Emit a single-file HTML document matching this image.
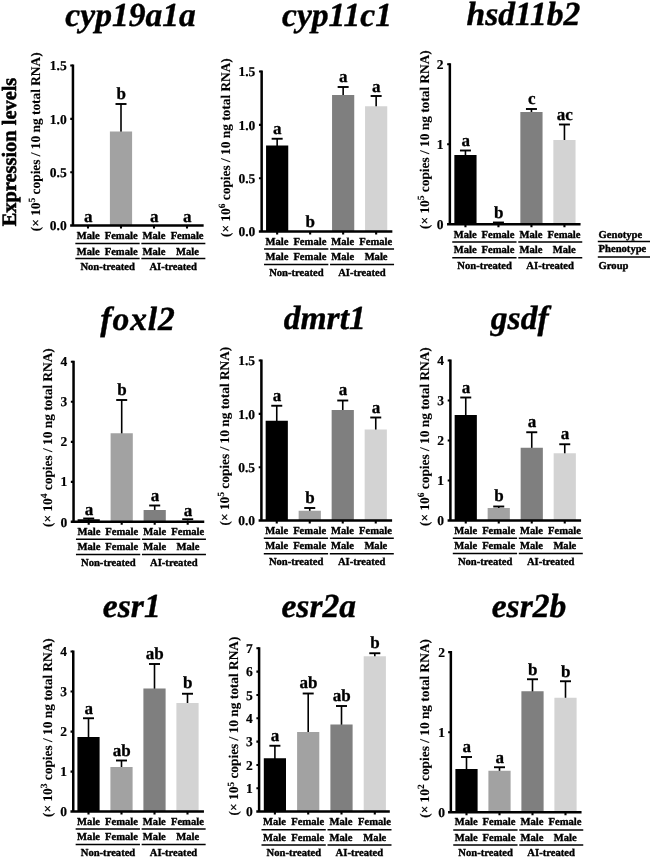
<!DOCTYPE html>
<html lang="en">
<head>
<meta charset="utf-8">
<title>Expression levels</title>
<style>
html,body{margin:0;padding:0;background:#fff;}
body{width:652px;height:859px;overflow:hidden;}
svg{display:block;}
text{font-family:"Liberation Serif", "Times New Roman", serif;font-weight:bold;fill:#000;text-rendering:geometricPrecision;stroke:#000;stroke-width:0.3px;stroke-linejoin:round;}
.ttl{font-size:33.6px;font-style:italic;text-anchor:middle;stroke-width:0.4px;}
.tk{font-size:13.5px;text-anchor:end;stroke-width:0.2px;}
.lb{font-size:10.6px;text-anchor:middle;stroke-width:0.38px;}
.lg{font-size:10.6px;stroke-width:0.38px;}
.let{font-size:17px;text-anchor:middle;}
.yl{font-size:13.35px;stroke-width:0.12px;}
.sup{font-size:9.5px;}
.expr{font-size:20.4px;stroke-width:0.55px;}
.axis{stroke:#000;stroke-width:2.5;fill:none;stroke-linecap:butt;}
.tick{stroke:#000;stroke-width:2.1;fill:none;}
.err{stroke:#000;stroke-width:1.6;fill:none;}
.cap{stroke:#000;stroke-width:1.9;fill:none;}
.ln{stroke:#000;stroke-width:1.5;fill:none;}
</style>
</head>
<body>
<svg width="652" height="859" viewBox="0 0 652 859">
<rect width="652" height="859" fill="#ffffff"/>
<g class="chart">
<text class="ttl" x="130.62" y="25.55">cyp19a1a</text>
<text class="yl" transform="translate(39.9 231.2) rotate(-90)">(× 10<tspan class="sup" dy="-4.5">5</tspan><tspan dy="4.5"> copies / 10 ng total RNA)</tspan></text>
<text class="let" x="88.2" y="221.8">a</text>
<path class="err" d="M121 132.5V104"/><path class="cap" d="M115.5 104H126.5"/>
<rect x="109.9" y="131.5" width="22.2" height="94.1" fill="#a2a2a2"/>
<text class="let" x="121.2" y="99.4">b</text>
<text class="let" x="154.2" y="221.8">a</text>
<text class="let" x="187.2" y="221.8">a</text>
<path class="axis" d="M72.95 64.5V226.85M70.15 225.6H203.65"/>
<text class="tk" x="66.65" y="70.2">1.5</text>
<text class="tk" x="66.65" y="123.55">1.0</text>
<text class="tk" x="66.65" y="176.9">0.5</text>
<text class="tk" x="66.65" y="230.25">0.0</text>
<path class="tick" d="M70.25 65.55H72.95M70.25 118.9H72.95M70.25 172.25H72.95M88 225.6V228.6M121 225.6V228.6M154 225.6V228.6M187 225.6V228.6"/>
<text class="lb" x="88.3" y="238.9">Male</text>
<text class="lb" x="88.3" y="254.55">Male</text>
<text class="lb" x="121.17" y="238.9">Female</text>
<text class="lb" x="121.17" y="254.55">Female</text>
<text class="lb" x="154.04" y="238.9">Male</text>
<text class="lb" x="154.04" y="254.55">Male</text>
<text class="lb" x="187.11" y="238.9">Female</text>
<text class="lb" x="187.41" y="254.55">Male</text>
<text class="lb" x="107.7" y="270">Non-treated</text>
<text class="lb" x="173.2" y="270">AI-treated</text>
<path class="ln" d="M75.35 243.45H139.65M141.35 243.45H205.35M75.35 258.45H139.65M141.35 258.45H205.35"/>
</g>
<g class="chart">
<text class="ttl" x="337" y="25.55">cyp11c1</text>
<text class="yl" transform="translate(229.5 237) rotate(-90)">(× 10<tspan class="sup" dy="-4.5">6</tspan><tspan dy="4.5"> copies / 10 ng total RNA)</tspan></text>
<path class="err" d="M277.15 146.5V138.75"/><path class="cap" d="M271.65 138.75H282.65"/>
<rect x="266.05" y="145.5" width="22.2" height="86.1" fill="#000000"/>
<text class="let" x="277.35" y="134.25">a</text>
<text class="let" x="310.35" y="226.75">b</text>
<path class="err" d="M343.15 96V87"/><path class="cap" d="M337.65 87H348.65"/>
<rect x="332.05" y="95" width="22.2" height="136.6" fill="#7f7f7f"/>
<text class="let" x="343.35" y="82">a</text>
<path class="err" d="M376.15 107.25V96"/><path class="cap" d="M370.65 96H381.65"/>
<rect x="365.05" y="106.25" width="22.2" height="125.35" fill="#d3d3d3"/>
<text class="let" x="376.35" y="91.75">a</text>
<path class="axis" d="M261.65 70.5V232.85M258.85 231.6H392.35"/>
<text class="tk" x="255.35" y="76.2">1.5</text>
<text class="tk" x="255.35" y="129.55">1.0</text>
<text class="tk" x="255.35" y="182.9">0.5</text>
<text class="tk" x="255.35" y="236.25">0.0</text>
<path class="tick" d="M258.95 71.55H261.65M258.95 124.9H261.65M258.95 178.25H261.65M277.15 231.6V234.6M310.15 231.6V234.6M343.15 231.6V234.6M376.15 231.6V234.6"/>
<text class="lb" x="277" y="244.5">Male</text>
<text class="lb" x="277" y="260.15">Male</text>
<text class="lb" x="309.87" y="244.5">Female</text>
<text class="lb" x="309.87" y="260.15">Female</text>
<text class="lb" x="342.74" y="244.5">Male</text>
<text class="lb" x="342.74" y="260.15">Male</text>
<text class="lb" x="375.81" y="244.5">Female</text>
<text class="lb" x="376.11" y="260.15">Male</text>
<text class="lb" x="296.4" y="275.6">Non-treated</text>
<text class="lb" x="361.9" y="275.6">AI-treated</text>
<path class="ln" d="M264.05 249.1H328.35M330.05 249.1H394.05M264.05 264.4H328.35M330.05 264.4H394.05"/>
</g>
<g class="chart">
<text class="ttl" x="523.5" y="24.8">hsd11b2</text>
<text class="yl" transform="translate(428.5 229) rotate(-90)">(× 10<tspan class="sup" dy="-4.5">5</tspan><tspan dy="4.5"> copies / 10 ng total RNA)</tspan></text>
<path class="err" d="M465.45 156V150.5"/><path class="cap" d="M459.95 150.5H470.95"/>
<rect x="454.35" y="155" width="22.2" height="69.3" fill="#000000"/>
<text class="let" x="465.65" y="146">a</text>
<path class="err" d="M498.45 224V222.5"/><path class="cap" d="M492.95 222.5H503.95"/>
<rect x="487.35" y="223" width="22.2" height="1.3" fill="#a2a2a2"/>
<text class="let" x="498.65" y="218">b</text>
<path class="err" d="M531.45 113V109"/><path class="cap" d="M525.95 109H536.95"/>
<rect x="520.35" y="112" width="22.2" height="112.3" fill="#7f7f7f"/>
<text class="let" x="531.65" y="104.25">c</text>
<path class="err" d="M564.45 141V124.5"/><path class="cap" d="M558.95 124.5H569.95"/>
<rect x="553.35" y="140" width="22.2" height="84.3" fill="#d3d3d3"/>
<text class="let" x="564.65" y="120">ac</text>
<path class="axis" d="M449.85 63.2V225.55M447.05 224.3H580.55"/>
<text class="tk" x="443.55" y="68.9">2</text>
<text class="tk" x="443.55" y="148.93">1</text>
<text class="tk" x="443.55" y="228.95">0</text>
<path class="tick" d="M447.15 64.25H449.85M447.15 144.28H449.85M465.45 224.3V227.3M498.45 224.3V227.3M531.45 224.3V227.3M564.45 224.3V227.3"/>
<text class="lb" x="465.2" y="237.6">Male</text>
<text class="lb" x="465.2" y="253.25">Male</text>
<text class="lb" x="498.07" y="237.6">Female</text>
<text class="lb" x="498.07" y="253.25">Female</text>
<text class="lb" x="530.94" y="237.6">Male</text>
<text class="lb" x="530.94" y="253.25">Male</text>
<text class="lb" x="564.01" y="237.6">Female</text>
<text class="lb" x="564.31" y="253.25">Male</text>
<text class="lb" x="484.6" y="268.7">Non-treated</text>
<text class="lb" x="550.1" y="268.7">AI-treated</text>
<path class="ln" d="M452.25 242.1H516.55M518.25 242.1H582.25M452.25 257.7H516.55M518.25 257.7H582.25"/>
</g>
<g class="chart">
<text class="ttl" x="138.07" y="329.9" letter-spacing="0.9">foxl2</text>
<text class="yl" transform="translate(51.5 527) rotate(-90)">(× 10<tspan class="sup" dy="-4.5">4</tspan><tspan dy="4.5"> copies / 10 ng total RNA)</tspan></text>
<path class="err" d="M88.7 520.25V518.5"/><path class="cap" d="M83.2 518.5H94.2"/>
<rect x="77.6" y="519.25" width="22.2" height="2.6" fill="#000000"/>
<text class="let" x="88.9" y="515">a</text>
<path class="err" d="M121.7 434.25V400"/><path class="cap" d="M116.2 400H127.2"/>
<rect x="110.6" y="433.25" width="22.2" height="88.6" fill="#a2a2a2"/>
<text class="let" x="121.9" y="395">b</text>
<path class="err" d="M154.7 511V505.5"/><path class="cap" d="M149.2 505.5H160.2"/>
<rect x="143.6" y="510" width="22.2" height="11.85" fill="#7f7f7f"/>
<text class="let" x="154.9" y="501.25">a</text>
<path class="err" d="M187.7 521.6V519.25"/><path class="cap" d="M182.2 519.25H193.2"/>
<rect x="176.6" y="520.6" width="22.2" height="1.25" fill="#d3d3d3"/>
<text class="let" x="187.9" y="515.5">a</text>
<path class="axis" d="M73.55 360.75V523.1M70.75 521.85H204.25"/>
<text class="tk" x="67.25" y="366.45">4</text>
<text class="tk" x="67.25" y="406.46">3</text>
<text class="tk" x="67.25" y="446.48">2</text>
<text class="tk" x="67.25" y="486.49">1</text>
<text class="tk" x="67.25" y="526.5">0</text>
<path class="tick" d="M70.85 361.8H73.55M70.85 401.81H73.55M70.85 441.83H73.55M70.85 481.84H73.55M88.7 521.85V524.85M121.7 521.85V524.85M154.7 521.85V524.85M187.7 521.85V524.85"/>
<text class="lb" x="88.9" y="534.5">Male</text>
<text class="lb" x="88.9" y="550.15">Male</text>
<text class="lb" x="121.77" y="534.5">Female</text>
<text class="lb" x="121.77" y="550.15">Female</text>
<text class="lb" x="154.64" y="534.5">Male</text>
<text class="lb" x="154.64" y="550.15">Male</text>
<text class="lb" x="187.71" y="534.5">Female</text>
<text class="lb" x="188.01" y="550.15">Male</text>
<text class="lb" x="108.3" y="565.6">Non-treated</text>
<text class="lb" x="173.8" y="565.6">AI-treated</text>
<path class="ln" d="M75.95 539.25H140.25M141.95 539.25H205.95M75.95 554.55H140.25M141.95 554.55H205.95"/>
</g>
<g class="chart">
<text class="ttl" x="324.73" y="328.55">dmrt1</text>
<text class="yl" transform="translate(228.8 525.5) rotate(-90)">(× 10<tspan class="sup" dy="-4.5">5</tspan><tspan dy="4.5"> copies / 10 ng total RNA)</tspan></text>
<path class="err" d="M276.75 421.75V405.75"/><path class="cap" d="M271.25 405.75H282.25"/>
<rect x="265.65" y="420.75" width="22.2" height="99.8" fill="#000000"/>
<text class="let" x="276.95" y="400.5">a</text>
<path class="err" d="M309.75 511.75V508"/><path class="cap" d="M304.25 508H315.25"/>
<rect x="298.65" y="510.75" width="22.2" height="9.8" fill="#a2a2a2"/>
<text class="let" x="309.95" y="503">b</text>
<path class="err" d="M342.75 411V400.5"/><path class="cap" d="M337.25 400.5H348.25"/>
<rect x="331.65" y="410" width="22.2" height="110.55" fill="#7f7f7f"/>
<text class="let" x="342.95" y="395">a</text>
<path class="err" d="M375.75 430.5V417.5"/><path class="cap" d="M370.25 417.5H381.25"/>
<rect x="364.65" y="429.5" width="22.2" height="91.05" fill="#d3d3d3"/>
<text class="let" x="375.95" y="412.5">a</text>
<path class="axis" d="M261.4 359.45V521.8M258.6 520.55H392.1"/>
<text class="tk" x="255.1" y="365.15">1.5</text>
<text class="tk" x="255.1" y="418.5">1.0</text>
<text class="tk" x="255.1" y="471.85">0.5</text>
<text class="tk" x="255.1" y="525.2">0.0</text>
<path class="tick" d="M258.7 360.5H261.4M258.7 413.85H261.4M258.7 467.2H261.4M276.75 520.55V523.55M309.75 520.55V523.55M342.75 520.55V523.55M375.75 520.55V523.55"/>
<text class="lb" x="276.75" y="533.6">Male</text>
<text class="lb" x="276.75" y="549.25">Male</text>
<text class="lb" x="309.62" y="533.6">Female</text>
<text class="lb" x="309.62" y="549.25">Female</text>
<text class="lb" x="342.49" y="533.6">Male</text>
<text class="lb" x="342.49" y="549.25">Male</text>
<text class="lb" x="375.56" y="533.6">Female</text>
<text class="lb" x="375.86" y="549.25">Male</text>
<text class="lb" x="296.15" y="564.7">Non-treated</text>
<text class="lb" x="361.65" y="564.7">AI-treated</text>
<path class="ln" d="M263.8 538.15H328.1M329.8 538.15H393.8M263.8 553.65H328.1M329.8 553.65H393.8"/>
</g>
<g class="chart">
<text class="ttl" x="519.73" y="328.6">gsdf</text>
<text class="yl" transform="translate(428.5 526) rotate(-90)">(× 10<tspan class="sup" dy="-4.5">6</tspan><tspan dy="4.5"> copies / 10 ng total RNA)</tspan></text>
<path class="err" d="M465.75 416V397.5"/><path class="cap" d="M460.25 397.5H471.25"/>
<rect x="454.65" y="415" width="22.2" height="105.55" fill="#000000"/>
<text class="let" x="465.95" y="392.5">a</text>
<path class="err" d="M498.75 509V506.5"/><path class="cap" d="M493.25 506.5H504.25"/>
<rect x="487.65" y="508" width="22.2" height="12.55" fill="#a2a2a2"/>
<text class="let" x="498.95" y="501.25">b</text>
<path class="err" d="M531.75 448.75V432.25"/><path class="cap" d="M526.25 432.25H537.25"/>
<rect x="520.65" y="447.75" width="22.2" height="72.8" fill="#7f7f7f"/>
<text class="let" x="531.95" y="427">a</text>
<path class="err" d="M564.75 454.25V444.25"/><path class="cap" d="M559.25 444.25H570.25"/>
<rect x="553.65" y="453.25" width="22.2" height="67.3" fill="#d3d3d3"/>
<text class="let" x="564.95" y="439.25">a</text>
<path class="axis" d="M450.4 359.45V521.8M447.6 520.55H581.1"/>
<text class="tk" x="444.1" y="365.15">4</text>
<text class="tk" x="444.1" y="405.16">3</text>
<text class="tk" x="444.1" y="445.17">2</text>
<text class="tk" x="444.1" y="485.19">1</text>
<text class="tk" x="444.1" y="525.2">0</text>
<path class="tick" d="M447.7 360.5H450.4M447.7 400.51H450.4M447.7 440.52H450.4M447.7 480.54H450.4M465.75 520.55V523.55M498.75 520.55V523.55M531.75 520.55V523.55M564.75 520.55V523.55"/>
<text class="lb" x="465.75" y="533.6">Male</text>
<text class="lb" x="465.75" y="549.25">Male</text>
<text class="lb" x="498.62" y="533.6">Female</text>
<text class="lb" x="498.62" y="549.25">Female</text>
<text class="lb" x="531.49" y="533.6">Male</text>
<text class="lb" x="531.49" y="549.25">Male</text>
<text class="lb" x="564.56" y="533.6">Female</text>
<text class="lb" x="564.86" y="549.25">Male</text>
<text class="lb" x="485.15" y="564.7">Non-treated</text>
<text class="lb" x="550.65" y="564.7">AI-treated</text>
<path class="ln" d="M452.8 538.15H517.1M518.8 538.15H582.8M452.8 553.45H517.1M518.8 553.45H582.8"/>
</g>
<g class="chart">
<text class="ttl" x="131.78" y="617.3">esr1</text>
<text class="yl" transform="translate(51.8 817) rotate(-90)">(× 10<tspan class="sup" dy="-4.5">3</tspan><tspan dy="4.5"> copies / 10 ng total RNA)</tspan></text>
<path class="err" d="M88.5 738V718.25"/><path class="cap" d="M83 718.25H94"/>
<rect x="77.4" y="737" width="22.2" height="74.6" fill="#000000"/>
<text class="let" x="88.7" y="713.5">a</text>
<path class="err" d="M121.5 768V760.5"/><path class="cap" d="M116 760.5H127"/>
<rect x="110.4" y="767" width="22.2" height="44.6" fill="#a2a2a2"/>
<text class="let" x="121.7" y="755.5">ab</text>
<path class="err" d="M154.5 689.5V664"/><path class="cap" d="M149 664H160"/>
<rect x="143.4" y="688.5" width="22.2" height="123.1" fill="#7f7f7f"/>
<text class="let" x="154.7" y="658.5">ab</text>
<path class="err" d="M187.5 704V693.75"/><path class="cap" d="M182 693.75H193"/>
<rect x="176.4" y="703" width="22.2" height="108.6" fill="#d3d3d3"/>
<text class="let" x="187.7" y="688.25">b</text>
<path class="axis" d="M73.25 650.5V812.85M70.45 811.6H203.95"/>
<text class="tk" x="66.95" y="656.2">4</text>
<text class="tk" x="66.95" y="696.21">3</text>
<text class="tk" x="66.95" y="736.23">2</text>
<text class="tk" x="66.95" y="776.24">1</text>
<text class="tk" x="66.95" y="816.25">0</text>
<path class="tick" d="M70.55 651.55H73.25M70.55 691.56H73.25M70.55 731.58H73.25M70.55 771.59H73.25M88.5 811.6V814.6M121.5 811.6V814.6M154.5 811.6V814.6M187.5 811.6V814.6"/>
<text class="lb" x="88.6" y="824.5">Male</text>
<text class="lb" x="88.6" y="840.15">Male</text>
<text class="lb" x="121.47" y="824.5">Female</text>
<text class="lb" x="121.47" y="840.15">Female</text>
<text class="lb" x="154.34" y="824.5">Male</text>
<text class="lb" x="154.34" y="840.15">Male</text>
<text class="lb" x="187.41" y="824.5">Female</text>
<text class="lb" x="187.71" y="840.15">Male</text>
<text class="lb" x="108" y="855.6">Non-treated</text>
<text class="lb" x="173.5" y="855.6">AI-treated</text>
<path class="ln" d="M75.65 829.1H139.95M141.65 829.1H205.65M75.65 844.55H139.95M141.65 844.55H205.65"/>
</g>
<g class="chart">
<text class="ttl" x="318.75" y="617.3">esr2a</text>
<text class="yl" transform="translate(238 815.4) rotate(-90)">(× 10<tspan class="sup" dy="-4.5">5</tspan><tspan dy="4.5"> copies / 10 ng total RNA)</tspan></text>
<path class="err" d="M274.9 759.25V745.75"/><path class="cap" d="M269.4 745.75H280.4"/>
<rect x="263.8" y="758.25" width="22.2" height="53.35" fill="#000000"/>
<text class="let" x="275.1" y="741">a</text>
<path class="err" d="M308.2 733V693.5"/><path class="cap" d="M302.7 693.5H313.7"/>
<rect x="297.1" y="732" width="22.2" height="79.6" fill="#a2a2a2"/>
<text class="let" x="308.4" y="688">ab</text>
<path class="err" d="M341.5 725.5V706"/><path class="cap" d="M336 706H347"/>
<rect x="330.4" y="724.5" width="22.2" height="87.1" fill="#7f7f7f"/>
<text class="let" x="341.7" y="700.5">ab</text>
<path class="err" d="M374.8 657.25V653.25"/><path class="cap" d="M369.3 653.25H380.3"/>
<rect x="363.7" y="656.25" width="22.2" height="155.35" fill="#d3d3d3"/>
<text class="let" x="375" y="648.25">b</text>
<path class="axis" d="M259.1 647.25V812.85M256.3 811.6H389.8"/>
<text class="tk" x="252.8" y="652.95">7</text>
<text class="tk" x="252.8" y="676.28">6</text>
<text class="tk" x="252.8" y="699.61">5</text>
<text class="tk" x="252.8" y="722.94">4</text>
<text class="tk" x="252.8" y="746.26">3</text>
<text class="tk" x="252.8" y="769.59">2</text>
<text class="tk" x="252.8" y="792.92">1</text>
<text class="tk" x="252.8" y="816.25">0</text>
<path class="tick" d="M256.4 648.3H259.1M256.4 671.63H259.1M256.4 694.96H259.1M256.4 718.29H259.1M256.4 741.61H259.1M256.4 764.94H259.1M256.4 788.27H259.1M274.9 811.6V814.6M308.2 811.6V814.6M341.5 811.6V814.6M374.8 811.6V814.6"/>
<text class="lb" x="274.45" y="825.1">Male</text>
<text class="lb" x="274.45" y="840.75">Male</text>
<text class="lb" x="307.75" y="825.1">Female</text>
<text class="lb" x="307.75" y="840.75">Female</text>
<text class="lb" x="341.05" y="825.1">Male</text>
<text class="lb" x="341.05" y="840.75">Male</text>
<text class="lb" x="374.55" y="825.1">Female</text>
<text class="lb" x="374.85" y="840.75">Male</text>
<text class="lb" x="293.85" y="856.2">Non-treated</text>
<text class="lb" x="359.35" y="856.2">AI-treated</text>
<path class="ln" d="M261.5 829.7H325.8M327.5 829.7H391.5M261.5 845H325.8M327.5 845H391.5"/>
</g>
<g class="chart">
<text class="ttl" x="529" y="616.8">esr2b</text>
<text class="yl" transform="translate(428.7 817.8) rotate(-90)">(× 10<tspan class="sup" dy="-4.5">2</tspan><tspan dy="4.5"> copies / 10 ng total RNA)</tspan></text>
<path class="err" d="M466.5 770V757"/><path class="cap" d="M461 757H472"/>
<rect x="455.4" y="769" width="22.2" height="43.2" fill="#000000"/>
<text class="let" x="466.7" y="751.75">a</text>
<path class="err" d="M499.5 771.75V767.25"/><path class="cap" d="M494 767.25H505"/>
<rect x="488.4" y="770.75" width="22.2" height="41.45" fill="#a2a2a2"/>
<text class="let" x="499.7" y="762.5">a</text>
<path class="err" d="M532.5 692.25V679.25"/><path class="cap" d="M527 679.25H538"/>
<rect x="521.4" y="691.25" width="22.2" height="120.95" fill="#7f7f7f"/>
<text class="let" x="532.7" y="674.5">b</text>
<path class="err" d="M565.5 698.75V681.25"/><path class="cap" d="M560 681.25H571"/>
<rect x="554.4" y="697.75" width="22.2" height="114.45" fill="#d3d3d3"/>
<text class="let" x="565.7" y="676.75">b</text>
<path class="axis" d="M450.85 651.1V813.45M448.05 812.2H581.55"/>
<text class="tk" x="445.05" y="656.8">2</text>
<text class="tk" x="445.05" y="736.83">1</text>
<text class="tk" x="445.05" y="816.85">0</text>
<path class="tick" d="M448.15 652.15H450.85M448.15 732.18H450.85M466.5 812.2V815.2M499.5 812.2V815.2M532.5 812.2V815.2M565.5 812.2V815.2"/>
<text class="lb" x="466.2" y="825.3">Male</text>
<text class="lb" x="466.2" y="840.95">Male</text>
<text class="lb" x="499.07" y="825.3">Female</text>
<text class="lb" x="499.07" y="840.95">Female</text>
<text class="lb" x="531.94" y="825.3">Male</text>
<text class="lb" x="531.94" y="840.95">Male</text>
<text class="lb" x="565.01" y="825.3">Female</text>
<text class="lb" x="565.31" y="840.95">Male</text>
<text class="lb" x="485.6" y="856.4">Non-treated</text>
<text class="lb" x="551.1" y="856.4">AI-treated</text>
<path class="ln" d="M453.25 829.9H517.55M519.25 829.9H583.25M453.25 844.95H517.55M519.25 844.95H583.25"/>
</g>
<text class="expr" transform="translate(16.3 226.3) rotate(-90)">Expression levels</text>
<text class="lg" x="598.6" y="237.6">Genotype</text>
<text class="lg" x="598.6" y="252.4">Phenotype</text>
<text class="lg" x="598.6" y="268.6">Group</text>
<path class="ln" d="M597.8 241.6H650M597.8 257H650"/>
</svg>
</body>
</html>
